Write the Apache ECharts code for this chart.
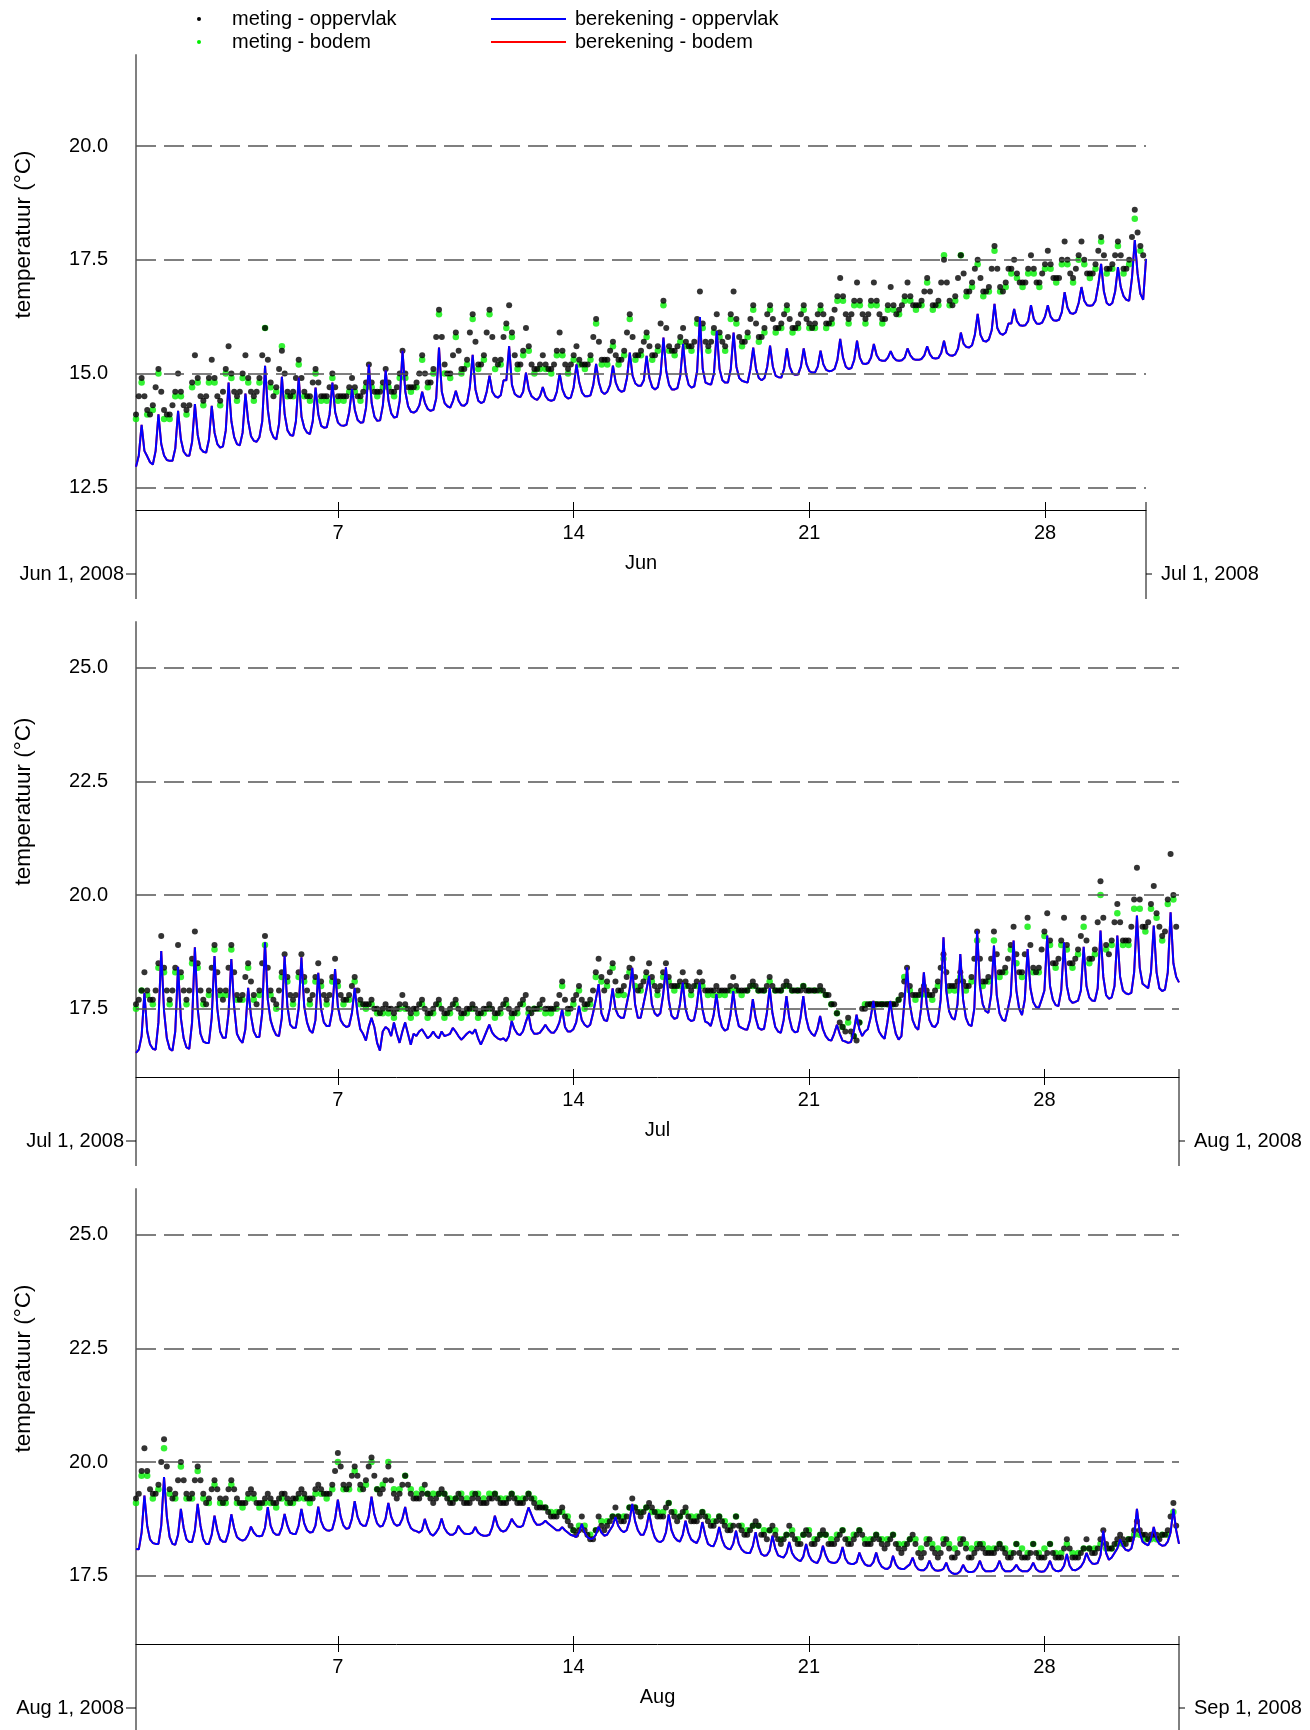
<!DOCTYPE html>
<html><head><meta charset="utf-8">
<script src="https://cdn.jsdelivr.net/npm/echarts@6/dist/echarts.min.js"></script>
<style>html,body{margin:0;padding:0;background:#fff}#c{width:1310px;height:1730px}</style>
</head><body><div id="c"></div>
<script>
// ===== DATA (2-hourly measured/calculated values, green every 4 hours) =====
const junMetOpp = [
14.1,14.5,14.9,14.5,14.2,14.1,14.3,14.7,15.1,14.6,14.2,14.1,
14.1,14.3,14.6,15.0,14.6,14.3,14.2,14.3,14.8,15.4,14.9,14.5,
14.4,14.5,14.9,15.3,14.9,14.5,14.4,14.6,15.1,15.6,15.0,14.6,
14.5,14.6,15.0,15.4,14.9,14.6,14.5,14.6,14.9,15.4,16.0,15.3,
14.8,14.5,14.7,15.1,15.5,15.0,14.6,14.5,14.6,14.9,15.3,14.9,
14.6,14.5,14.5,14.8,15.1,14.8,14.5,14.5,14.5,14.7,15.0,14.7,
14.5,14.5,14.5,14.5,14.7,14.9,14.7,14.5,14.5,14.6,14.8,15.2,
14.8,14.6,14.6,14.6,14.8,15.1,14.8,14.6,14.6,14.7,15.0,15.5,
15.0,14.7,14.7,14.7,14.8,15.0,15.4,15.0,14.8,14.8,15.1,15.8,
16.4,15.8,15.2,15.0,15.0,15.4,15.9,15.5,15.1,15.1,15.3,15.9,
16.3,15.7,15.2,15.2,15.4,15.9,16.4,15.8,15.3,15.2,15.3,15.8,
16.1,16.5,15.9,15.4,15.2,15.2,15.5,16.0,15.6,15.2,15.1,15.1,
15.2,15.4,15.2,15.1,15.1,15.2,15.5,15.9,15.5,15.2,15.1,15.2,
15.4,15.6,15.3,15.2,15.2,15.2,15.4,15.8,16.2,15.7,15.3,15.3,
15.3,15.5,15.7,15.4,15.3,15.3,15.5,15.9,16.3,15.8,15.4,15.4,
15.5,15.7,15.9,15.6,15.4,15.4,15.6,16.1,16.6,16.0,15.6,15.5,
15.5,15.6,15.8,16.0,15.7,15.6,15.6,15.7,16.2,16.8,16.1,15.7,
15.6,15.7,16.0,16.3,15.9,15.7,15.6,15.8,16.3,16.8,16.2,15.8,
15.7,15.7,15.9,16.2,16.5,16.1,15.8,15.8,16.0,16.3,16.5,16.2,
16.0,16.0,16.1,16.3,16.5,16.2,16.0,16.0,16.1,16.3,16.5,16.2,
16.1,16.0,16.1,16.3,16.5,16.3,16.1,16.1,16.2,16.4,16.7,17.1,
16.7,16.3,16.2,16.3,16.6,17.0,16.6,16.3,16.2,16.3,16.6,17.0,
16.6,16.3,16.2,16.2,16.5,16.9,16.5,16.3,16.4,16.5,16.7,17.0,
16.7,16.5,16.5,16.5,16.6,16.8,17.1,16.8,16.5,16.5,16.6,17.0,
17.5,17.0,16.6,16.5,16.7,17.1,17.6,17.2,16.8,16.8,17.0,17.3,
17.5,17.1,16.8,16.8,16.9,17.3,17.8,17.3,16.9,16.8,17.0,17.3,
17.3,17.5,17.2,17.0,17.0,17.0,17.3,17.6,17.3,17.0,17.0,17.2,
17.4,17.7,17.4,17.1,17.1,17.1,17.5,17.9,17.5,17.2,17.1,17.3,
17.6,17.9,17.5,17.2,17.2,17.2,17.4,17.7,18.0,17.6,17.3,17.3,
17.4,17.6,17.9,17.6,17.3,17.3,17.5,18.0,18.6,18.1,17.8,17.6];
const junMetBod = [
14.0,14.8,14.1,14.2,15.0,14.0, 14.0,14.5,14.5,14.1,14.7,14.8, 14.3,14.8,14.8,14.3,15.0,14.9,
14.4,14.9,14.8,14.4,14.8,16.0, 14.7,14.6,15.6,14.5,14.5,15.2, 14.5,14.4,15.0,14.4,14.4,14.9,
14.4,14.4,14.6,14.6,14.4,14.7, 14.7,14.5,14.7,14.7,14.5,14.9, 14.9,14.6,14.7,15.3,14.7,15.0,
16.3,15.0,14.9,15.8,15.0,15.2, 16.2,15.1,15.3,16.3,15.1,15.2, 16.0,15.8,15.1,15.4,15.5,15.0,
15.1,15.1,15.0,15.4,15.4,15.0, 15.3,15.2,15.1,15.3,16.1,15.2, 15.2,15.6,15.2,15.4,16.2,15.3,
15.4,15.8,15.3,15.5,16.5,15.5, 15.4,15.7,15.6,15.5,16.1,16.0, 15.5,15.9,15.8,15.5,16.2,16.1,
15.6,15.8,16.4,15.7,15.9,16.4, 15.9,16.0,16.4,15.9,16.0,16.4, 16.0,16.0,16.4,16.0,16.1,16.6,
16.6,16.1,16.5,16.5,16.1,16.5, 16.5,16.1,16.4,16.4,16.3,16.6, 16.6,16.4,16.5,17.0,16.4,16.5,
17.6,16.5,16.6,17.6,16.7,16.9, 17.4,16.7,16.8,17.7,16.8,16.9, 17.2,17.1,16.9,17.2,17.2,16.9,
17.3,17.3,17.0,17.4,17.4,17.0, 17.5,17.4,17.1,17.3,17.9,17.2, 17.3,17.8,17.2,17.4,18.4,17.7];
const junBerOpp = [
12.95,13.2,13.87,13.3,13.18,13.05,13.0,13.3,14.1,13.45,13.2,13.1,
13.08,13.08,13.35,14.18,13.55,13.28,13.2,13.19,13.5,14.33,13.65,13.35,
13.28,13.26,13.55,14.29,13.7,13.45,13.37,13.4,13.75,14.8,13.95,13.6,
13.45,13.42,13.7,14.56,13.95,13.62,13.52,13.5,13.6,13.95,15.17,14.2,
13.75,13.6,13.55,13.9,14.93,14.1,13.75,13.65,13.63,13.95,14.91,14.05,
13.8,13.7,13.67,13.95,14.69,14.1,13.85,13.81,13.82,14.1,14.8,14.15,
13.92,13.86,13.85,13.87,14.15,14.66,14.2,13.98,13.92,13.93,14.25,15.2,
14.35,14.05,13.96,13.97,14.3,15.07,14.4,14.12,14.03,14.05,14.4,15.5,
14.6,14.28,14.16,14.14,14.18,14.3,14.6,14.35,14.22,14.18,14.2,14.45,
15.57,14.6,14.35,14.28,14.25,14.4,14.62,14.4,14.3,14.29,14.35,14.7,
15.41,14.65,14.4,14.35,14.38,14.6,14.95,14.6,14.5,14.47,14.52,14.85,
14.85,15.6,14.75,14.55,14.5,14.48,14.6,15.02,14.65,14.5,14.45,14.42,
14.5,14.7,14.5,14.42,14.4,14.42,14.6,15.0,14.65,14.5,14.45,14.47,
14.7,15.2,14.8,14.58,14.5,14.5,14.52,14.75,15.21,14.8,14.6,14.55,
14.6,14.75,15.17,14.8,14.65,14.6,14.62,14.9,15.46,14.95,14.78,14.73,
14.73,14.85,15.39,14.9,14.7,14.65,14.7,15.0,15.79,15.05,14.75,14.65,
14.65,14.68,14.95,15.65,15.0,14.75,14.69,14.72,15.05,16.24,15.1,14.8,
14.77,14.76,15.0,15.94,15.1,14.85,14.8,14.8,15.1,15.9,15.15,14.9,
14.84,14.82,14.8,15.1,15.57,15.1,14.9,14.85,14.9,15.15,15.61,15.15,
14.95,14.92,14.91,15.1,15.55,15.15,15.0,14.97,14.98,15.15,15.55,15.2,
15.05,15.02,15.02,15.15,15.5,15.2,15.08,15.05,15.06,15.1,15.3,15.76,
15.35,15.15,15.1,15.12,15.3,15.72,15.35,15.22,15.21,15.23,15.35,15.65,
15.4,15.3,15.28,15.28,15.35,15.49,15.35,15.29,15.28,15.29,15.35,15.55,
15.4,15.32,15.3,15.3,15.32,15.4,15.6,15.42,15.34,15.33,15.34,15.45,
15.72,15.45,15.4,15.39,15.42,15.55,15.9,15.65,15.58,15.57,15.62,15.85,
16.31,15.85,15.72,15.7,15.75,15.95,16.53,16.0,15.88,15.85,15.9,16.1,
16.1,16.42,16.15,16.06,16.05,16.06,16.15,16.5,16.2,16.1,16.09,16.12,
16.25,16.5,16.25,16.17,16.16,16.18,16.35,16.79,16.45,16.33,16.31,16.35,
16.55,16.9,16.6,16.5,16.49,16.5,16.6,16.95,17.41,16.8,16.55,16.5,
16.55,16.8,17.34,16.9,16.7,16.62,16.6,17.1,17.93,17.2,16.75,16.62,
17.52];
const junBerBod = junBerOpp; // red line lies under the blue one

const julMetOpp = [
17.6,17.7,17.9,18.3,17.9,17.7,17.7,17.9,18.5,19.1,18.4,17.9,
17.7,17.9,18.4,18.9,18.3,17.9,17.7,17.9,18.6,19.2,18.5,17.9,
17.7,17.6,17.9,18.4,18.9,18.3,17.9,17.7,17.9,18.4,18.9,18.3,
17.8,17.7,17.8,18.2,18.5,18.1,17.8,17.6,17.9,18.5,19.1,18.4,
17.9,17.7,17.6,17.9,18.3,18.7,18.2,17.8,17.7,17.8,18.3,18.7,
18.2,17.9,17.7,17.8,18.2,18.5,18.1,17.8,17.7,17.8,18.2,18.6,
18.1,17.8,17.7,17.7,17.8,18.0,18.2,17.9,17.7,17.6,17.6,17.6,
17.7,17.5,17.5,17.4,17.5,17.6,17.5,17.5,17.4,17.5,17.6,17.8,
17.6,17.5,17.4,17.5,17.5,17.6,17.7,17.5,17.4,17.4,17.5,17.6,
17.7,17.5,17.4,17.4,17.5,17.6,17.7,17.5,17.4,17.4,17.5,17.5,
17.6,17.5,17.4,17.4,17.5,17.5,17.6,17.5,17.4,17.4,17.5,17.6,
17.7,17.5,17.4,17.4,17.5,17.6,17.7,17.8,17.5,17.4,17.5,17.5,
17.6,17.7,17.5,17.5,17.5,17.5,17.6,17.8,18.1,17.7,17.5,17.5,
17.7,17.8,18.0,17.7,17.6,17.6,17.7,17.9,18.3,18.6,18.2,17.9,
18.1,18.3,18.5,18.1,17.9,17.9,18.0,18.2,18.4,18.6,18.2,17.9,
18.0,18.1,18.3,18.5,18.2,18.0,17.9,18.0,18.3,18.5,18.2,18.0,
18.0,18.0,18.1,18.3,18.1,18.0,17.9,18.0,18.1,18.3,18.1,17.9,
17.9,17.9,17.9,18.0,17.9,17.9,17.9,17.9,18.0,18.2,18.0,17.9,
17.9,17.9,17.9,18.0,18.1,18.0,17.9,17.9,17.9,18.0,18.2,18.0,
17.9,17.9,17.9,18.0,18.1,18.0,17.9,17.9,17.9,17.9,18.0,17.9,
17.9,17.9,17.9,17.9,18.0,17.9,17.8,17.8,17.6,17.6,17.4,17.2,
17.1,17.0,17.3,17.0,16.9,16.8,17.2,17.5,17.5,17.6,17.6,17.6,
17.6,17.6,17.6,17.6,17.6,17.6,17.6,17.6,17.7,17.8,18.1,18.4,
18.0,17.8,17.8,17.8,17.9,18.0,17.9,17.8,17.8,17.9,18.1,18.4,
18.7,18.3,18.0,18.0,18.0,18.1,18.3,18.1,18.0,18.0,18.2,18.6,
19.2,18.6,18.1,18.1,18.2,18.6,19.2,18.7,18.3,18.3,18.4,18.6,
18.9,19.3,18.7,18.3,18.3,18.7,19.5,18.9,18.4,18.3,18.4,18.8,
19.2,19.6,19.0,18.5,18.5,18.6,19.0,19.5,18.9,18.5,18.5,18.6,
18.8,19.1,19.5,19.0,18.6,18.6,18.8,19.4,20.3,19.5,18.9,18.7,
19.0,19.4,19.8,19.4,19.0,19.0,19.0,19.3,19.9,20.6,19.9,19.3,
19.3,19.4,19.8,20.2,19.6,19.3,19.1,19.2,19.9,20.9,20.0,19.3];
const julMetBod = [
17.5,17.9,17.8,17.6,18.4,18.3, 17.6,18.3,18.2,17.6,18.5,18.4, 17.6,17.8,18.8,17.8,17.8,18.8,
17.7,17.7,18.4,17.7,17.8,18.9, 17.8,17.5,18.2,18.1,17.6,18.2, 18.1,17.6,18.1,18.0,17.6,18.1,
18.0,17.6,17.7,18.1,17.6,17.5, 17.6,17.4,17.4,17.4,17.3,17.5, 17.5,17.3,17.4,17.6,17.3,17.4,
17.6,17.3,17.4,17.6,17.3,17.4, 17.5,17.3,17.4,17.5,17.3,17.4, 17.6,17.3,17.4,17.6,17.4,17.5,
17.5,17.4,17.4,17.5,18.0,17.4, 17.6,17.9,17.5,17.6,18.2,18.1, 18.0,18.4,17.8,17.8,18.3,18.0,
17.9,18.2,18.1,17.8,18.2,18.1, 17.9,18.0,18.0,17.8,18.0,18.0, 17.8,17.8,17.8,17.8,17.9,17.9,
17.8,17.9,18.0,17.9,17.9,18.1, 17.9,17.9,18.0,17.9,17.9,18.0, 17.9,17.9,17.9,17.8,17.6,17.4,
17.1,17.2,16.9,17.2,17.6,17.6, 17.6,17.6,17.6,17.6,17.7,18.2, 17.9,17.7,17.8,17.8,17.7,18.0,
18.6,17.9,17.9,18.2,17.9,18.1, 19.0,18.0,18.1,19.0,18.2,18.3, 18.8,18.5,18.2,19.3,18.3,18.3,
19.1,18.9,18.4,18.9,18.8,18.4, 18.7,19.3,18.5,18.7,20.0,18.8, 18.9,19.6,18.9,18.9,19.7,19.7,
19.2,19.7,19.5,19.0,19.8,19.9];
const julBerOpp = [
16.53,16.6,16.9,17.85,17.0,16.72,16.62,16.6,17.2,18.77,17.45,16.85,
16.62,16.58,17.0,18.42,17.3,16.85,16.65,16.62,17.2,18.85,17.5,16.95,
16.78,16.75,16.75,17.3,18.66,17.5,17.0,16.86,16.86,17.4,18.59,17.55,
16.95,16.82,16.75,17.05,17.96,17.35,17.0,16.88,16.88,17.4,18.96,17.7,
17.25,17.05,16.92,16.9,17.3,18.66,17.55,17.15,17.08,17.08,17.5,18.63,
17.55,17.2,17.02,16.97,17.25,18.29,17.5,17.2,17.12,17.12,17.45,18.37,
17.55,17.25,17.15,17.1,17.12,17.4,17.96,17.4,17.05,16.95,16.8,17.1,
17.3,17.1,16.75,16.58,17.0,17.1,17.05,16.9,17.2,16.95,16.75,17.0,
17.2,16.95,16.71,16.95,16.9,17.0,17.05,16.95,16.85,16.9,17.0,16.9,
16.85,17.0,16.9,16.92,16.95,17.08,17.0,16.9,16.82,16.88,16.95,17.0,
16.95,17.05,16.85,16.71,16.85,17.0,17.15,16.98,16.9,16.85,16.82,16.85,
16.79,16.9,17.23,17.05,16.95,16.92,17.0,17.2,17.38,17.05,16.95,16.95,
16.97,17.05,17.15,17.05,16.98,16.97,17.05,17.2,17.49,17.1,17.0,17.0,
17.05,17.2,17.56,17.25,17.15,17.1,17.15,17.4,17.7,18.04,17.4,17.25,
17.23,17.5,17.95,17.5,17.35,17.3,17.3,17.6,17.9,18.4,17.6,17.3,
17.3,17.6,17.9,18.22,17.6,17.4,17.34,17.4,17.8,18.41,17.7,17.35,
17.28,17.3,17.6,18.08,17.5,17.28,17.23,17.25,17.55,18.08,17.5,17.22,
17.19,17.12,17.35,17.82,17.35,17.1,17.02,17.05,17.35,17.89,17.4,17.12,
17.08,17.05,17.04,17.25,17.71,17.3,17.08,17.04,17.06,17.4,17.96,17.4,
17.1,17.0,16.97,17.25,17.78,17.3,17.05,16.98,17.0,17.3,17.78,17.3,
17.05,16.95,16.9,17.05,17.34,17.05,16.9,16.82,16.8,16.95,17.15,16.95,
16.8,16.78,16.75,16.77,17.0,17.37,17.05,16.9,17.0,17.05,17.3,17.67,
17.25,17.0,16.9,16.84,17.2,17.67,17.25,16.95,16.82,16.9,17.6,18.41,
17.6,17.25,17.1,17.04,17.5,18.3,17.6,17.25,17.12,17.1,17.2,17.7,
19.07,17.9,17.45,17.3,17.26,17.6,18.7,17.7,17.3,17.15,17.12,17.5,
19.22,18.0,17.6,17.45,17.41,17.8,18.89,17.8,17.4,17.26,17.23,17.5,
17.8,19.0,17.9,17.5,17.36,17.7,18.81,17.95,17.65,17.54,17.52,17.7,
17.9,19.11,18.0,17.7,17.58,17.56,17.9,18.96,18.0,17.7,17.63,17.65,
17.68,17.9,18.86,18.0,17.75,17.68,17.67,17.95,19.22,18.2,17.8,17.72,
17.75,18.0,19.11,18.2,17.9,17.84,17.82,17.85,18.3,19.55,18.4,18.05,
18.0,17.95,18.3,19.33,18.3,17.95,17.89,17.92,18.3,19.62,18.5,18.2,
18.08];
const julBerBod = julBerOpp;

const augMetOpp = [
19.2,19.3,19.8,20.3,19.8,19.4,19.3,19.3,19.5,20.0,20.5,19.9,
19.4,19.2,19.3,19.6,20.0,19.6,19.3,19.2,19.3,19.6,19.9,19.6,
19.3,19.1,19.2,19.4,19.6,19.4,19.2,19.1,19.2,19.4,19.6,19.4,
19.2,19.1,19.1,19.1,19.3,19.4,19.3,19.1,19.1,19.1,19.2,19.3,
19.2,19.1,19.1,19.2,19.3,19.3,19.2,19.1,19.2,19.2,19.3,19.4,
19.3,19.2,19.2,19.2,19.4,19.5,19.4,19.3,19.3,19.3,19.5,19.8,
20.2,19.9,19.5,19.4,19.5,19.7,19.9,19.7,19.5,19.4,19.6,19.9,
20.1,19.7,19.4,19.3,19.4,19.6,19.9,19.6,19.3,19.2,19.3,19.5,
19.7,19.5,19.3,19.2,19.2,19.2,19.3,19.5,19.3,19.2,19.1,19.2,
19.3,19.4,19.3,19.2,19.1,19.1,19.2,19.3,19.2,19.1,19.1,19.1,
19.2,19.3,19.2,19.1,19.1,19.1,19.2,19.2,19.3,19.2,19.1,19.1,
19.1,19.2,19.3,19.2,19.1,19.1,19.1,19.2,19.3,19.2,19.1,19.0,
19.0,19.0,19.0,18.9,18.8,18.8,18.8,18.9,19.0,18.8,18.7,18.6,
18.5,18.4,18.5,18.8,18.5,18.4,18.3,18.3,18.5,18.8,18.6,18.5,
18.6,18.7,18.8,19.0,18.8,18.7,18.7,18.8,19.0,19.2,19.0,18.9,
18.8,18.9,19.0,19.1,19.0,18.9,18.8,18.8,18.8,19.0,19.1,18.9,
18.8,18.7,18.8,18.9,19.0,18.8,18.7,18.7,18.7,18.8,18.9,18.8,
18.7,18.6,18.6,18.7,18.8,18.7,18.6,18.5,18.5,18.6,18.8,18.6,
18.5,18.4,18.4,18.5,18.6,18.7,18.6,18.4,18.4,18.3,18.5,18.6,
18.4,18.3,18.2,18.3,18.4,18.6,18.4,18.3,18.2,18.2,18.4,18.5,
18.4,18.2,18.2,18.3,18.4,18.5,18.4,18.2,18.2,18.2,18.3,18.4,
18.5,18.3,18.2,18.2,18.3,18.4,18.5,18.4,18.2,18.2,18.2,18.3,
18.4,18.3,18.2,18.1,18.2,18.3,18.4,18.2,18.1,18.0,18.1,18.2,
18.3,18.4,18.2,18.0,17.9,18.0,18.2,18.3,18.1,18.0,17.9,18.0,
18.2,18.3,18.1,17.9,17.9,18.0,18.2,18.3,18.1,17.9,17.9,18.0,
18.1,18.2,18.1,18.0,18.0,18.0,18.0,18.1,18.2,18.1,18.0,17.9,
17.9,18.0,18.2,18.0,17.9,17.9,17.9,18.0,18.2,18.0,17.9,17.9,
17.9,18.0,18.2,18.0,17.9,17.9,17.9,18.1,18.3,18.1,17.9,17.9,
17.9,18.0,18.1,18.3,18.1,18.0,18.0,18.1,18.3,18.5,18.2,18.1,
18.1,18.2,18.3,18.4,18.3,18.2,18.3,18.3,18.5,18.7,18.5,18.4,
18.4,18.3,18.4,18.4,18.4,18.3,18.4,18.4,18.5,18.8,19.1,18.6];
const augMetBod = [
19.1,19.7,19.7,19.2,19.4,20.3, 19.3,19.2,19.9,19.2,19.2,19.8, 19.2,19.1,19.5,19.1,19.1,19.5,
19.1,19.0,19.2,19.2,19.0,19.1, 19.1,19.0,19.2,19.1,19.1,19.2, 19.2,19.1,19.3,19.3,19.2,19.4,
20.0,19.4,19.4,19.8,19.4,19.5, 20.0,19.4,19.5,20.0,19.4,19.4, 19.7,19.4,19.3,19.4,19.3,19.3,
19.3,19.3,19.2,19.2,19.3,19.2, 19.3,19.3,19.2,19.3,19.3,19.2, 19.2,19.3,19.2,19.2,19.3,19.2,
19.1,19.0,18.9,18.9,18.9,18.8, 18.5,18.6,18.6,18.4,18.5,18.7, 18.7,18.8,18.8,18.8,19.0,19.0,
18.9,19.0,18.9,18.9,18.9,19.1, 18.9,18.8,18.9,18.8,18.8,18.9, 18.8,18.7,18.8,18.7,18.6,18.8,
18.6,18.5,18.6,18.6,18.5,18.5, 18.5,18.3,18.4,18.5,18.3,18.4, 18.5,18.3,18.4,18.4,18.3,18.4,
18.5,18.3,18.4,18.5,18.3,18.3, 18.4,18.3,18.3,18.4,18.2,18.2, 18.3,18.3,18.1,18.3,18.2,18.1,
18.3,18.2,18.1,18.3,18.2,18.1, 18.2,18.2,18.1,18.1,18.2,18.1, 18.0,18.2,18.1,18.0,18.2,18.0,
18.1,18.2,18.0,18.0,18.2,18.0, 18.0,18.1,18.1,18.1,18.2,18.1, 18.1,18.2,18.2,18.3,18.4,18.4,
18.3,18.3,18.3,18.4,18.4,18.9];
const augBerOpp = [
18.09,18.08,18.45,19.26,18.6,18.3,18.22,18.2,18.2,18.6,19.67,18.8,
18.35,18.2,18.18,18.4,18.97,18.55,18.3,18.24,18.24,18.5,19.08,18.6,
18.3,18.2,18.2,18.4,18.82,18.5,18.3,18.25,18.25,18.45,18.85,18.55,
18.35,18.3,18.27,18.3,18.4,18.58,18.45,18.38,18.37,18.38,18.55,19.01,
18.6,18.45,18.4,18.4,18.55,18.86,18.6,18.45,18.42,18.42,18.6,18.97,
18.65,18.5,18.45,18.46,18.6,19.02,18.7,18.55,18.5,18.49,18.52,18.75,
19.17,18.8,18.6,18.53,18.55,18.75,19.14,18.8,18.65,18.6,18.6,18.8,
19.24,18.85,18.65,18.58,18.6,18.75,19.1,18.8,18.65,18.6,18.62,18.75,
19.01,18.7,18.55,18.5,18.48,18.45,18.5,18.75,18.55,18.42,18.38,18.45,
18.55,18.76,18.55,18.45,18.4,18.4,18.45,18.6,18.5,18.43,18.42,18.42,
18.45,18.57,18.45,18.4,18.38,18.38,18.4,18.55,18.82,18.6,18.5,18.47,
18.5,18.6,18.75,18.65,18.58,18.57,18.6,18.8,19.0,18.85,18.7,18.62,
18.62,18.65,18.71,18.65,18.6,18.55,18.5,18.5,18.57,18.5,18.45,18.4,
18.38,18.35,18.45,18.64,18.45,18.35,18.31,18.32,18.4,18.58,18.45,18.38,
18.4,18.5,18.6,18.79,18.6,18.5,18.46,18.5,18.7,19.08,18.7,18.5,
18.4,18.4,18.55,18.88,18.55,18.35,18.26,18.24,18.28,18.45,18.85,18.5,
18.35,18.28,18.25,18.4,18.71,18.45,18.3,18.25,18.22,18.35,18.68,18.4,
18.2,18.16,18.15,18.3,18.57,18.3,18.15,18.1,18.08,18.2,18.49,18.2,
18.08,18.02,18.0,18.0,18.15,18.46,18.15,17.98,17.94,17.95,18.05,18.38,
18.1,17.95,17.92,17.9,18.0,18.24,18.0,17.9,17.85,17.82,17.92,18.2,
17.95,17.84,17.8,17.78,17.9,18.16,17.95,17.82,17.79,17.78,17.8,17.9,
18.13,17.88,17.78,17.76,17.76,17.8,18.01,17.85,17.75,17.72,17.72,17.8,
18.01,17.8,17.7,17.66,17.65,17.7,17.94,17.75,17.67,17.65,17.65,17.7,
17.75,17.9,17.72,17.64,17.62,17.62,17.68,17.83,17.68,17.62,17.61,17.62,
17.65,17.79,17.62,17.56,17.54,17.55,17.6,17.74,17.62,17.58,17.58,17.6,
17.68,17.83,17.66,17.6,17.6,17.6,17.61,17.68,17.83,17.66,17.6,17.6,
17.6,17.65,17.74,17.64,17.6,17.6,17.6,17.66,17.79,17.65,17.6,17.59,
17.6,17.68,17.83,17.66,17.61,17.6,17.62,17.72,17.98,17.72,17.63,17.62,
17.65,17.7,17.8,18.0,17.85,17.77,17.76,17.78,17.95,18.49,18.0,17.85,
17.9,18.0,18.1,18.3,18.15,18.07,18.05,18.1,18.35,18.97,18.45,18.25,
18.2,18.17,18.3,18.57,18.3,18.2,18.16,18.17,18.25,18.45,18.97,18.5,
18.2];
const augBerBod = augBerOpp;

const tickDays = [7, 14, 21, 28];
const yTicksJun = [12.5, 15.0, 17.5, 20.0];
const yTicksJulAug = [17.5, 20.0, 22.5, 25.0];
const seriesNames = ['meting - oppervlak', 'meting - bodem', 'berekening - oppervlak', 'berekening - bodem'];

// ===== CHART =====
const FONT = '"Liberation Sans", Arial, Helvetica, sans-serif';
const H = 3600000;
const panels = [
  {y:2008, m:5, days:30, black:junMetOpp, green:junMetBod, blue:junBerOpp, red:junBerBod, yMin:12, yMax:22, yTicks:yTicksJun, month:'Jun', from:'Jun 1, 2008', to:'Jul 1, 2008', top:55, width:1010},
  {y:2008, m:6, days:31, black:julMetOpp, green:julMetBod, blue:julBerOpp, red:julBerBod, yMin:16, yMax:26, yTicks:yTicksJulAug, month:'Jul', from:'Jul 1, 2008', to:'Aug 1, 2008', top:622, width:1043},
  {y:2008, m:7, days:31, black:augMetOpp, green:augMetBod, blue:augBerOpp, red:augBerBod, yMin:16, yMax:26, yTicks:yTicksJulAug, month:'Aug', from:'Aug 1, 2008', to:'Sep 1, 2008', top:1189, width:1043}
];
const LEFT = 136, GH = 455;
const grid = [], xAxis = [], yAxis = [], series = [], graphic = [];
const txt = (x, y, s, align, extra) => Object.assign({type:'text', x, y, style:{text:s, font:'20px ' + FONT, fill:'#000', textAlign:align, textVerticalAlign:'middle'}}, extra || {});
const ln = (x1, y1, x2, y2, c, w) => ({type:'line', shape:{x1, y1, x2, y2}, style:{stroke:c, lineWidth:w}});

panels.forEach((p, k) => {
  const start = Date.UTC(p.y, p.m, 1), end = start + p.days * 24 * H;
  const ticks = tickDays.map(d => Date.UTC(p.y, p.m, d));
  grid.push({left:LEFT, top:p.top, width:p.width, height:GH});
  xAxis.push({type:'value', gridIndex:k, position:'bottom', min:start, max:end,
    axisLine:{show:true, lineStyle:{color:'#000', width:1}},
    axisTick:{show:true, length:8, customValues:ticks, lineStyle:{color:'#000'}},
    axisLabel:{show:true, customValues:ticks, margin:13, fontSize:20, fontFamily:FONT, color:'#000',
      formatter:v => String(new Date(v).getUTCDate())},
    splitLine:{show:false}});
  xAxis.push({type:'value', gridIndex:k, position:'bottom', min:start, max:end,
    axisLine:{show:false}, axisTick:{show:true, inside:true, length:8, customValues:ticks, lineStyle:{color:'#000'}},
    axisLabel:{show:false}, splitLine:{show:false}});
  yAxis.push({type:'value', gridIndex:k, min:p.yMin, max:p.yMax,
    axisLine:{show:true, lineStyle:{color:'#808080', width:2}}, axisTick:{show:false},
    axisLabel:{customValues:p.yTicks, formatter:v => v.toFixed(1), margin:28, fontSize:20, fontFamily:FONT, color:'#000'},
    splitLine:{show:false}});
  const xi = 2 * k;
  series.push({name:seriesNames[1], type:'scatter', xAxisIndex:xi, yAxisIndex:k, symbolSize:6.5, z:1,
    itemStyle:{color:'#00ee00'}, silent:true,
    data:p.green.map((v, i) => [start + i * 4 * H, v]),
    markLine:{silent:true, symbol:['none','none'], label:{show:false},
      lineStyle:{type:[20,8], color:'#555', width:1.5}, data:p.yTicks.map(v => ({yAxis:v}))}});
  series.push({name:seriesNames[0], type:'scatter', xAxisIndex:xi, yAxisIndex:k, symbolSize:6, z:2,
    itemStyle:{color:'#000'}, silent:true,
    data:p.black.map((v, i) => [start + i * 2 * H, v])});
  series.push({name:seriesNames[3], type:'line', xAxisIndex:xi, yAxisIndex:k, showSymbol:false, z:3,
    lineStyle:{color:'#ff0000', width:2}, silent:true,
    data:p.red.map((v, i) => [start + i * 2 * H, v])});
  series.push({name:seriesNames[2], type:'line', xAxisIndex:xi, yAxisIndex:k, showSymbol:false, z:4,
    lineStyle:{color:'#0000ff', width:2}, silent:true,
    data:p.blue.map((v, i) => [start + i * 2 * H, v])});

  const y0 = p.top + GH, xr = LEFT + p.width, yd = y0 + 64;
  graphic.push(ln(LEFT, y0, LEFT, y0 + 89, '#808080', 2));
  graphic.push(ln(xr, y0 - 8, xr, y0 + 89, '#000', 1));
  graphic.push(ln(LEFT - 10, yd, LEFT, yd, '#000', 1));
  graphic.push(ln(xr, yd, xr + 6, yd, '#000', 1));
  graphic.push(txt(LEFT - 12, yd, p.from, 'right'));
  graphic.push(txt(xr + 15, yd, p.to, 'left'));
  graphic.push(txt(LEFT + p.width / 2, y0 + 53, p.month, 'center'));
  const yc = p.top + GH / 2 - 48;
  graphic.push({type:'text', x:24, y:yc, rotation:Math.PI / 2,
    style:{text:'temperatuur (°C)', font:'22.5px ' + FONT, fill:'#000', textAlign:'center', textVerticalAlign:'middle'}});
});

// legend
graphic.push({type:'circle', shape:{cx:199, cy:19, r:2}, style:{fill:'#000'}});
graphic.push(txt(232, 19, seriesNames[0], 'left'));
graphic.push({type:'circle', shape:{cx:199, cy:42, r:2}, style:{fill:'#00ee00'}});
graphic.push(txt(232, 42, seriesNames[1], 'left'));
graphic.push(ln(491, 19, 566, 19, '#0000ff', 2));
graphic.push(txt(575, 19, seriesNames[2], 'left'));
graphic.push(ln(491, 42, 566, 42, '#ff0000', 2));
graphic.push(txt(575, 42, seriesNames[3], 'left'));

const chart = echarts.init(document.getElementById('c'), null, {renderer:'canvas'});
chart.setOption({animation:false, backgroundColor:'#fff', grid, xAxis, yAxis, series, graphic});
</script></body></html>
